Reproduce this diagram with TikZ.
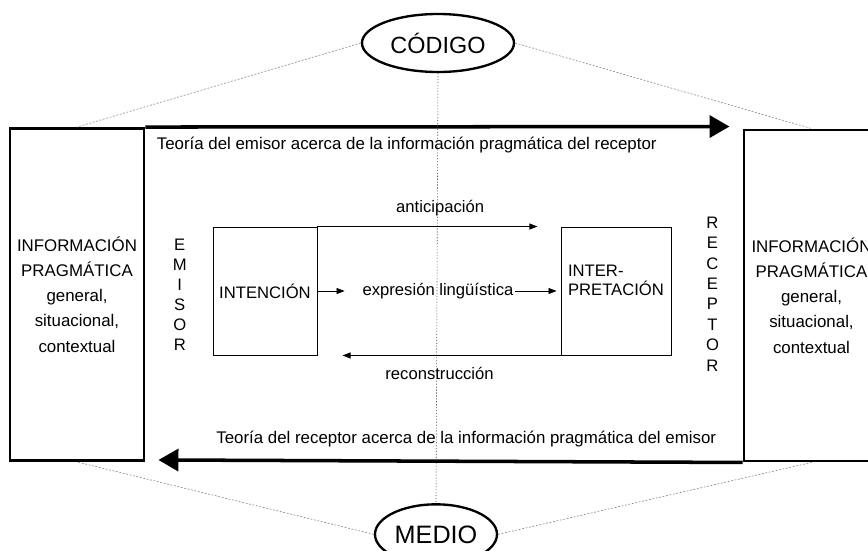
\documentclass[tikz,border=0pt]{standalone}
\usepackage{fontspec}
\setmainfont{Liberation Sans}
\usetikzlibrary{shapes,arrows.meta,positioning}

\begin{document}
\begin{tikzpicture}

\tikzstyle{infobox} = [draw=black, line width=2.5pt, minimum width=4.02cm, minimum height=9.96cm, inner sep=0pt, align=center, font=\fontsize{14.4}{21.5}\selectfont]
\tikzstyle{block} = [draw=black, line width=0.8pt, minimum height=3.84cm, inner sep=0pt, font=\fontsize{14.2}{15.5}\selectfont]
\tikzstyle{textblock} = [inner sep=1pt, font=\fontsize{14.2}{16}\selectfont]
\tikzstyle{oval} = [ellipse, draw=black, line width=2pt, inner sep=0pt, font=\fontsize{20}{22}\selectfont]

\tikzset{
  big arrow/.style={line width=3pt, -{Triangle[length=0.6cm,width=0.66cm]}},
  small arrow/.style={line width=0.6pt, -{Triangle[length=2.4mm,width=1.8mm]}},
  guide/.style={gray, line width=0.5pt, dash pattern=on 1.6pt off 1.4pt}
}

\draw node (anchor) at (0,0) {};

\useasboundingbox (-13.11,-7.77) rectangle (12.93,8.73);
\clip (-13.11,-7.77) rectangle (12.93,8.73);

%Code and channel: top and bottom

\path (anchor)+(0.03,7.44) node (codigo) [oval, minimum width=4.56cm, minimum height=1.74cm] {CÓDIGO};
\path (anchor)+(-0.03,-7.3) node (medio) [oval, minimum width=3.66cm, minimum height=1.8cm, font=\fontsize{21.5}{23}\selectfont] {MEDIO};

%Pragmatic information: left and right

\path (anchor)+(-10.8,-0.105) node (info_l) [infobox] {INFORMACIÓN\\PRAGMÁTICA\\general,\\situacional,\\contextual};
\path (anchor)+(11.235,-0.135) node (info_r) [infobox, minimum width=4.05cm, minimum height=9.93cm] {INFORMACIÓN\\PRAGMÁTICA\\general,\\situacional,\\contextual};

%Sender and receiver

\path (anchor)+(-5.16,0) node (intencion) [block, minimum width=3.12cm] {INTENCIÓN};
\path (anchor)+(5.37,0) node (interp) [block, minimum width=3.3cm, align=left] {INTER-\\PRETACIÓN\\[0.1cm]};

\path (info_l.east)+(1.03,0.0) node (emisor) [textblock, align=center, font=\fontsize{14.2}{17}\selectfont] {E\\M\\I\\S\\O\\R};
\path (interp.east)+(1.23,-0.09) node (receptor) [textblock, align=center, font=\fontsize{14.2}{17.4}\selectfont] {R\\E\\C\\E\\P\\T\\O\\R};

\path (anchor)+(0.03,0) node (expr) [textblock] {expresión lingüística};

%Theories

\path (info_l.north east)+(0.3,-0.55) node (teoria_e) [textblock, anchor=west, font=\fontsize{14.4}{16}\selectfont] {Teoría del emisor acerca de la información pragmática del receptor};
\path (info_r.south west)+(-0.75,0.69) node (teoria_r) [textblock, anchor=east, font=\fontsize{14.4}{16}\selectfont] {Teoría del receptor acerca de la información pragmática del emisor};

%Arrows

\path (info_r.north west)+(-0.39,0.06) coordinate (top_tip);
\path (info_l.south east)+(0.39,0.06) coordinate (bottom_tip);

\draw [big arrow] (info_l.north east) -- (top_tip);
\draw [big arrow] (info_r.south west) -- (bottom_tip);

\path (intencion.north east)+(6.6,0) coordinate (antic_end);
\path (interp.south west)+(-6.54,0) coordinate (recons_end);

\draw [small arrow] (intencion.north east) -- (antic_end);
\draw [small arrow] (interp.south west) -- (recons_end);

\path (intencion.north east)+(3.68,0.56) node (antic) [textblock] {anticipación};
\path (interp.south west)+(-3.63,-0.54) node (recons) [textblock] {reconstrucción};

\draw [small arrow, shorten >=0.5cm] (intencion.east) -- (expr.west);
\draw [small arrow, shorten >=0.12cm] (expr.east) -- (interp.west);

%Dotted guides

\draw [guide] (codigo.west) -- (info_l.north);
\draw [guide] (codigo.east) -- (info_r.north);
\draw [guide] (medio.west) -- (info_l.south);
\draw [guide] (medio.east) -- (info_r.south);
\draw [guide, dash pattern=on 1pt off 1.5pt, black!70] (codigo.south) -- (medio.north);

\end{tikzpicture}
\end{document}
